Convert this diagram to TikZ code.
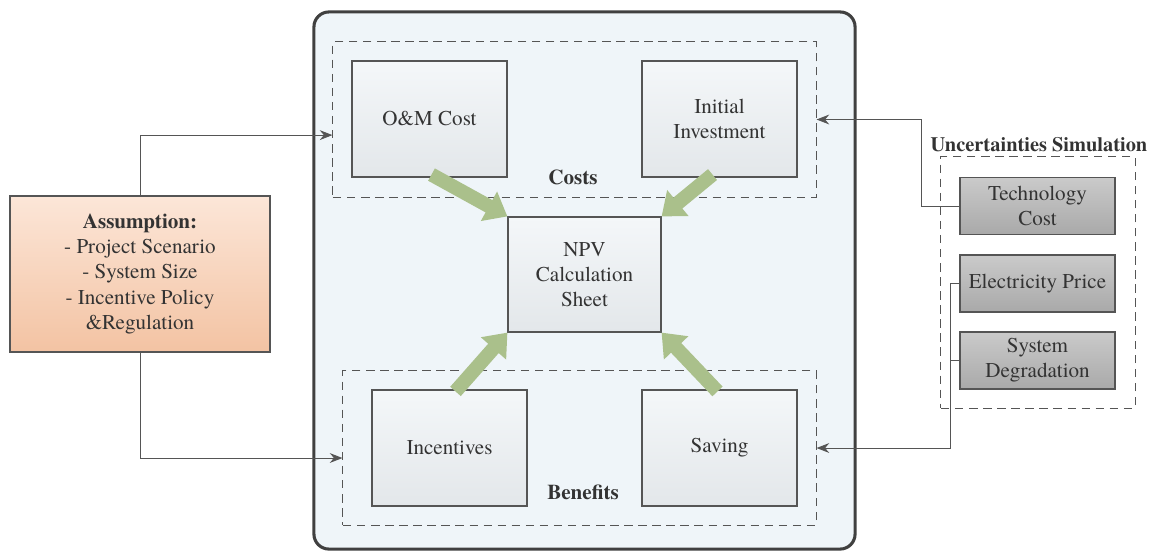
\documentclass[tikz,border=0pt]{standalone}
\usepackage{fontspec}
\setmainfont{texgyretermes}[Extension=.otf, UprightFont=*-regular, BoldFont=*-bold, ItalicFont=*-italic]
\usetikzlibrary{arrows.meta}

\definecolor{textgray}{HTML}{333333}
\definecolor{boxline}{HTML}{555555}
\definecolor{blocktop}{HTML}{F4F7F9}
\definecolor{blockbot}{HTML}{E3E7EA}
\definecolor{simtop}{HTML}{CACACA}
\definecolor{simbot}{HTML}{A9A9A9}
\definecolor{asstop}{HTML}{FCE6D8}
\definecolor{assbot}{HTML}{F3C3A3}
\definecolor{sheetfill}{HTML}{EFF5F9}
\definecolor{arrowgreen}{HTML}{AAC08B}

\begin{document}
\begin{tikzpicture}[x=0.025cm,y=-0.025cm,
    every node/.style={font=\fontsize{15}{18}\selectfont, text=textgray, align=center, inner sep=0pt},
    block/.style={draw=boxline, line width=0.8pt, top color=blocktop, bottom color=blockbot,
        minimum width=3.875cm, minimum height=2.9cm},
    simblock/.style={draw=boxline, line width=0.8pt, top color=simtop, bottom color=simbot,
        minimum width=3.875cm, minimum height=1.425cm},
    group/.style={draw=boxline, line width=0.7pt, dash pattern=on 6pt off 4pt},
    conn/.style={draw=boxline, line width=0.7pt, -{Stealth[length=9pt, width=7pt]}},
    garrow/.style={draw=arrowgreen, line width=10pt, -{Triangle[length=15pt, width=23pt]}}]

    % Page size
    \useasboundingbox (0,0) rectangle (1156,555);

    % Outer sheet
    \node[draw=black!75, line width=2.2pt, fill=sheetfill, rounded corners=0.375cm,
        minimum width=13.525cm, minimum height=13.425cm] (sheet) at (584.5,280.5) {};

    % Groups
    \node[group, minimum width=12.075cm, minimum height=3.875cm] (costs) at (574.5,119.5) {};
    \node[group, minimum width=11.825cm, minimum height=3.85cm] (benefits) at (579.5,448) {};
    \node[group, minimum width=4.85cm, minimum height=6.275cm] (uncert) at (1038,282.5) {};

    % Blocks
    \node[block] (om) at (429.5,119) {O\&M Cost};
    \node[block] (inv) at (719.5,119) {Initial\\Investment};
    \node[block, minimum width=3.825cm, minimum height=2.875cm] (npv) at (584.5,274.5) {NPV\\Calculation\\Sheet};
    \node[block] (inc) at (449.5,448) {Incentives};
    \node[block] (sav) at (719.5,448) {Saving};

    \node[draw=boxline, line width=0.8pt, top color=asstop, bottom color=assbot,
        minimum width=6.5cm, minimum height=3.9cm] (assump) at (140,274)
        {\textbf{Assumption:}\\- Project Scenario\\- System Size\\- Incentive Policy\\\&Regulation};

    \node[simblock] (tech) at (1037.5,206) {Technology\\Cost};
    \node[simblock] (elec) at (1037.5,283.5) {Electricity Price};
    \node[simblock] (deg) at (1037.5,360.5) {System\\Degradation};

    % Labels
    \node[font=\fontsize{15}{18}\selectfont\bfseries] (costslabel) at (573,177) {Costs};
    \node[font=\fontsize{15}{18}\selectfont\bfseries] (benefitslabel) at (583,492) {Benefits};
    \node[font=\fontsize{14.5}{18}\selectfont\bfseries] (uncertlabel) at (1039,145) {Uncertainties Simulation};

    % Green arrows to NPV
    \draw[garrow] ([shift={(2,-3)}]om.south) -- (npv.north west);
    \draw[garrow] ([shift={(-7,-3)}]inv.south) -- (npv.north east);
    \draw[garrow] ([shift={(6,2)}]inc.north) -- (npv.south west);
    \draw[garrow] ([shift={(-2,2)}]sav.north) -- (npv.south east);

    % Connectors
    \draw[conn] (assump.north) |- ([yshift=-0.39cm]costs.west);
    \draw[conn] (assump.south) |- ([yshift=-0.25cm]benefits.west);
    \draw[conn] (tech.west) -- ++(-38,0) |- (costs.east);
    \draw[conn] (elec.west) -- ++(-9,0) |- (benefits.east);
    \draw[draw=boxline, line width=0.7pt] (deg.west) -- ++(-9,0);
\end{tikzpicture}
\end{document}
